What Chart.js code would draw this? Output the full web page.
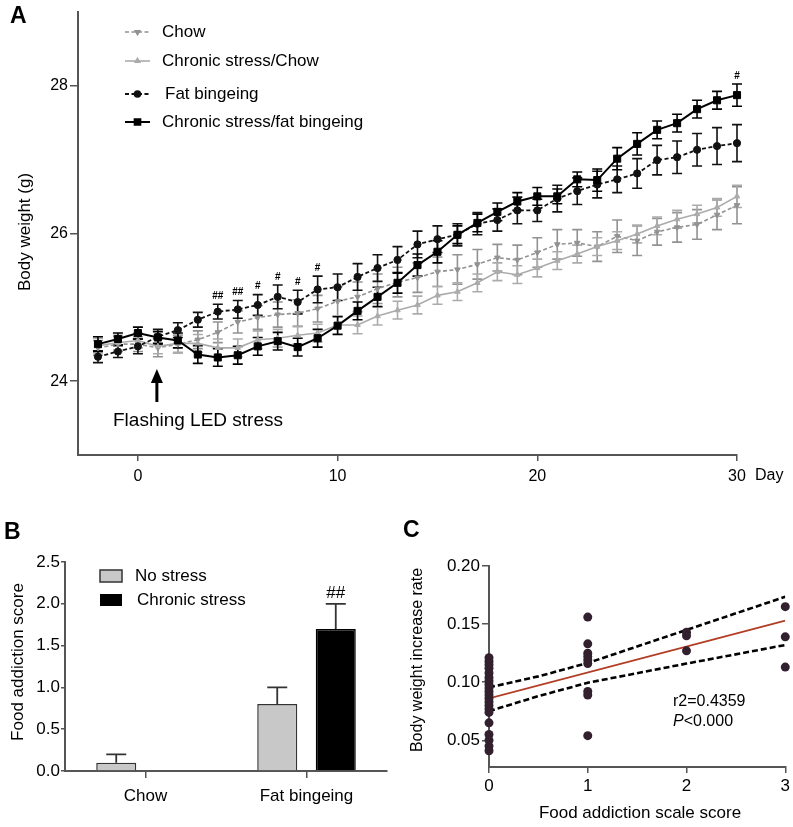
<!DOCTYPE html>
<html><head><meta charset="utf-8">
<script src="https://cdn.jsdelivr.net/npm/chart.js@4.4.0/dist/chart.umd.min.js"></script>
<style>
html,body{margin:0;padding:0;background:#fff;width:793px;height:827px;overflow:hidden;}
.wrap{position:absolute;}
canvas{display:block;}
</style></head><body>
<div class="wrap" style="left:0;top:0;width:793px;height:500px"><canvas id="cA"></canvas></div>
<div class="wrap" style="left:0;top:520px;width:400px;height:307px"><canvas id="cB"></canvas></div>
<div class="wrap" style="left:400px;top:520px;width:393px;height:307px"><canvas id="cC"></canvas></div>
<script>
// ---------- Panel A data ----------
const days = [-2,-1,0,1,2,3,4,5,6,7,8,9,10,11,12,13,14,15,16,17,18,19,20,21,22,23,24,25,26,27,28,29,30];
const chow = [24.45,24.50,24.50,24.45,24.50,24.56,24.66,24.80,24.86,24.90,24.92,24.98,25.08,25.14,25.25,25.34,25.40,25.48,25.51,25.58,25.67,25.64,25.74,25.85,25.87,25.82,25.96,25.90,26.02,26.08,26.12,26.25,26.38];
const stressChow = [24.48,24.52,24.55,24.47,24.51,24.51,24.45,24.45,24.56,24.58,24.62,24.65,24.76,24.76,24.88,24.96,25.03,25.16,25.21,25.33,25.48,25.44,25.53,25.63,25.72,25.82,25.90,25.99,26.10,26.19,26.26,26.35,26.50];
const fatBinge = [24.33,24.40,24.47,24.60,24.69,24.83,24.94,24.97,25.03,25.14,25.07,25.24,25.27,25.41,25.53,25.64,25.85,25.92,25.98,26.13,26.18,26.31,26.31,26.47,26.57,26.66,26.73,26.81,26.99,27.03,27.13,27.18,27.22];
const stressFat = [24.50,24.57,24.65,24.59,24.55,24.36,24.32,24.35,24.47,24.54,24.46,24.58,24.75,24.95,25.14,25.33,25.57,25.75,25.98,26.14,26.29,26.43,26.50,26.50,26.73,26.72,27.01,27.21,27.40,27.49,27.68,27.80,27.87];
const errChow = [0.10,0.10,0.10,0.12,0.12,0.12,0.14,0.15,0.16,0.17,0.18,0.18,0.20,0.20,0.20,0.20,0.20,0.20,0.20,0.20,0.18,0.20,0.20,0.20,0.18,0.20,0.22,0.20,0.18,0.20,0.20,0.20,0.25];
const errStressChow = [0.10,0.10,0.10,0.10,0.12,0.12,0.12,0.12,0.12,0.12,0.12,0.12,0.12,0.12,0.12,0.12,0.12,0.12,0.12,0.12,0.12,0.12,0.12,0.12,0.12,0.12,0.12,0.12,0.12,0.12,0.12,0.12,0.15];
const errFat = [0.08,0.08,0.10,0.10,0.10,0.10,0.10,0.12,0.14,0.16,0.16,0.18,0.18,0.18,0.18,0.18,0.18,0.18,0.15,0.15,0.15,0.18,0.15,0.18,0.18,0.18,0.18,0.20,0.20,0.22,0.22,0.25,0.25];
const errStressFat = [0.10,0.08,0.08,0.08,0.10,0.12,0.12,0.12,0.12,0.12,0.12,0.12,0.12,0.12,0.13,0.14,0.15,0.15,0.12,0.12,0.12,0.12,0.12,0.10,0.10,0.15,0.15,0.15,0.12,0.12,0.12,0.12,0.15];
const seriesNamesA = ['Chow','Chronic stress/Chow','Fat bingeing','Chronic stress/fat bingeing'];
const xTicksA = [0,10,20,30];
const yTicksA = [24,26,28];
const sigDays = [4,5,6,7,8,9,30];
const sigLabels = ['##','##','#','#','#','#','#'];
const sigSeries = [2,2,2,2,2,2,3];

// ---------- Panel B data ----------
const groupsB = ['Chow','Fat bingeing'];
const noStress = [0.1,0.8];
const noStressErr = [0.1,0.2];
const chronicStress = [0,1.7];
const chronicStressErr = [0,0.3];
const yTicksB = [0,0.5,1.0,1.5,2.0,2.5];

// ---------- Panel C data ----------
const scoreC = [0,0,0,0,0,0,0,0,0,0,0,0,0,0,0,0,0,0,0,0,0, 1,1,1,1,1,1,1,1,1, 2,2,2, 3,3,3];
const rateC = [0.121,0.118,0.115,0.112,0.108,0.104,0.101,0.098,0.095,0.092,0.089,0.086,0.083,0.080,0.077,0.074,0.065,0.055,0.050,0.045,0.041,
               0.156,0.133,0.125,0.122,0.119,0.116,0.092,0.089,0.054,
               0.143,0.140,0.127,
               0.165,0.139,0.113];
const fitX = [0,3];
const fitY = [0.086,0.153];
const bandX = [0,0.5,1,2,3];
const bandUpper = [0.0955,0.105,0.1165,0.145,0.1735];
const bandLower = [0.075,0.088,0.0995,0.116,0.132];
const xTicksC = [0,1,2,3];
const yTicksC = [0.05,0.10,0.15,0.20];

// ---------- helpers ----------
const FONT = "Arial, 'Liberation Sans', Helvetica, sans-serif";
Chart.defaults.font.family = FONT;
Chart.defaults.color = '#000';
function txt(ctx, s, x, y, o) {
  o = o || {};
  ctx.save();
  ctx.font = o.font || ('17px ' + FONT);
  ctx.fillStyle = o.color || '#000';
  ctx.textAlign = o.align || 'left';
  ctx.textBaseline = o.base || 'middle';
  if (o.rot) { ctx.translate(x, y); ctx.rotate(o.rot); ctx.fillText(s, 0, 0); }
  else ctx.fillText(s, x, y);
  ctx.restore();
}
const AXC = '#555';
function pts(xs, ys) { return xs.map((x, i) => ({x: x, y: ys[i]})); }

// ---------- Panel A ----------
const colA = ['#929292', '#ababab', '#111', '#000'];
const errA = [errChow, errStressChow, errFat, errStressFat];
const valsA = [chow, stressChow, fatBinge, stressFat];
const styleA = [
  {pointStyle:'triangle', rotation:180, pointRadius:3.2, borderDash:[4,2.5], borderWidth:1.6},
  {pointStyle:'triangle', rotation:0, pointRadius:3.2, borderDash:[], borderWidth:1.6},
  {pointStyle:'circle', rotation:0, pointRadius:3.6, borderDash:[4,2.5], borderWidth:1.8},
  {pointStyle:'rect', rotation:0, pointRadius:5, borderDash:[], borderWidth:2}
];

const errPluginA = {
  id: 'errA',
  beforeDatasetsDraw(chart) {
    const ctx = chart.ctx, ys = chart.scales.y;
    chart.data.datasets.forEach((ds, i) => {
      const meta = chart.getDatasetMeta(i);
      ctx.save();
      ctx.strokeStyle = ds.borderColor; ctx.lineWidth = 1.6; ctx.setLineDash([]);
      meta.data.forEach((p, j) => {
        const v = ds.data[j].y, e = errA[i][j];
        const yt = ys.getPixelForValue(v + e), yb = ys.getPixelForValue(v - e);
        ctx.beginPath();
        ctx.moveTo(p.x, yt); ctx.lineTo(p.x, yb);
        ctx.moveTo(p.x - 5, yt); ctx.lineTo(p.x + 5, yt);
        ctx.moveTo(p.x - 5, yb); ctx.lineTo(p.x + 5, yb);
        ctx.stroke();
      });
      ctx.restore();
    });
  }
};
const annotA = {
  id: 'annotA',
  afterDraw(chart) {
    const ctx = chart.ctx, xs = chart.scales.x, ys = chart.scales.y;
    txt(ctx, 'A', 10, 17, {font: 'bold 23px ' + FONT});
    txt(ctx, 'Body weight (g)', 25, 232, {rot: -Math.PI/2, align: 'center'});
    txt(ctx, 'Day', 755, 476, {font: '16px ' + FONT});
    // legend
    const ly = [32, 61, 94, 122];
    for (let i = 0; i < 4; i++) {
      ctx.save();
      ctx.strokeStyle = colA[i]; ctx.fillStyle = colA[i];
      ctx.lineWidth = styleA[i].borderWidth;
      ctx.setLineDash(styleA[i].borderDash);
      ctx.beginPath(); ctx.moveTo(125, ly[i]); ctx.lineTo(150, ly[i]); ctx.stroke();
      ctx.setLineDash([]);
      Chart.helpers.drawPoint(ctx, {pointStyle: styleA[i].pointStyle, rotation: styleA[i].rotation, radius: styleA[i].pointRadius * 0.8, borderWidth: 1}, 137.5, ly[i]);
      ctx.restore();
      txt(ctx, seriesNamesA[i], i === 2 ? 165 : 162, ly[i], {font: '17px ' + FONT});
    }
    // significance marks
    for (let k = 0; k < sigDays.length; k++) {
      const s = sigSeries[k];
      const j = days.indexOf(sigDays[k]);
      const y = ys.getPixelForValue(valsA[s][j] + errA[s][j]) - 8;
      txt(ctx, sigLabels[k], xs.getPixelForValue(sigDays[k]), y, {font: 'bold 10px ' + FONT, align: 'center'});
    }
    // arrow + label
    const ax = xs.getPixelForValue(0.95);
    ctx.save();
    ctx.fillStyle = '#000'; ctx.strokeStyle = '#000'; ctx.lineWidth = 3;
    ctx.beginPath(); ctx.moveTo(ax, 402); ctx.lineTo(ax, 378); ctx.stroke();
    ctx.beginPath(); ctx.moveTo(ax, 369); ctx.lineTo(ax - 6, 383); ctx.lineTo(ax + 6, 383); ctx.closePath(); ctx.fill();
    ctx.restore();
    txt(ctx, 'Flashing LED stress', 198, 421, {font: '19px ' + FONT, align: 'center'});
  }
};

new Chart(document.getElementById('cA'), {
  type: 'line',
  data: {
    datasets: valsA.map((v, i) => ({
      label: seriesNamesA[i],
      data: pts(days, v),
      borderColor: colA[i], backgroundColor: colA[i],
      pointBackgroundColor: colA[i], pointBorderColor: colA[i],
      borderWidth: styleA[i].borderWidth, borderDash: styleA[i].borderDash,
      pointStyle: styleA[i].pointStyle, rotation: styleA[i].rotation,
      pointRadius: styleA[i].pointRadius, pointBorderWidth: 1,
      tension: 0, order: 4 - i, clip: false
    }))
  },
  options: {
    responsive: true, maintainAspectRatio: false, animation: false,
    layout: {padding: {left: 0, right: 56, top: 5, bottom: 0}},
    plugins: {legend: {display: false}, tooltip: {enabled: false}},
    scales: {
      x: {
        type: 'linear', min: -3, max: 30,
        afterBuildTicks: a => { a.ticks = xTicksA.map(v => ({value: v})); },
        afterFit: a => { a.height = 45; },
        grid: {drawOnChartArea: false, tickLength: 6, color: AXC, lineWidth: 1.5},
        border: {color: AXC, width: 2},
        ticks: {font: {size: 16}, padding: 6, color: '#000', maxRotation: 0}
      },
      y: {
        type: 'linear', min: 23, max: 29,
        afterBuildTicks: a => { a.ticks = yTicksA.map(v => ({value: v})); },
        afterFit: a => { a.width = 78; },
        grid: {drawOnChartArea: false, tickLength: 8, color: AXC, lineWidth: 1.5},
        border: {color: AXC, width: 2},
        ticks: {font: {size: 16}, padding: 2, color: '#000'}
      }
    }
  },
  plugins: [errPluginA, annotA]
});

// ---------- Panel B ----------
const errB = [noStressErr, chronicStressErr];
const barErrPlugin = {
  id: 'errB',
  afterDatasetsDraw(chart) {
    const ctx = chart.ctx, ys = chart.scales.y;
    chart.data.datasets.forEach((ds, i) => {
      const meta = chart.getDatasetMeta(i);
      meta.data.forEach((b, j) => {
        const e = errB[i][j];
        if (!e) return;
        const yt = ys.getPixelForValue(ds.data[j] + e);
        ctx.save();
        ctx.strokeStyle = '#333'; ctx.lineWidth = 1.8;
        ctx.beginPath();
        ctx.moveTo(b.x, b.y); ctx.lineTo(b.x, yt);
        ctx.moveTo(b.x - 10, yt); ctx.lineTo(b.x + 10, yt);
        ctx.stroke();
        ctx.restore();
      });
    });
  },
  afterDraw(chart) {
    const ctx = chart.ctx, ys = chart.scales.y;
    txt(ctx, 'B', 4, 13, {font: 'bold 23px ' + FONT});
    txt(ctx, 'Food addiction score', 18, 142, {rot: -Math.PI/2, align: 'center'});
    // legend
    ctx.save();
    ctx.fillStyle = '#c8c8c8'; ctx.strokeStyle = '#333'; ctx.lineWidth = 1.5;
    ctx.fillRect(100, 50, 22, 12); ctx.strokeRect(100, 50, 22, 12);
    ctx.fillStyle = '#000';
    ctx.fillRect(100, 74, 22, 12);
    ctx.restore();
    txt(ctx, 'No stress', 135, 56, {font: '17px ' + FONT});
    txt(ctx, 'Chronic stress', 137, 80, {font: '17px ' + FONT});
    // significance
    const b = chart.getDatasetMeta(1).data[1];
    txt(ctx, '##', b.x, ys.getPixelForValue(chronicStress[1] + chronicStressErr[1]) - 10, {font: '17px ' + FONT, align: 'center'});
  }
};
new Chart(document.getElementById('cB'), {
  type: 'bar',
  data: {
    labels: groupsB,
    datasets: [
      {label: 'No stress', data: noStress, backgroundColor: '#c8c8c8', borderColor: '#333', borderWidth: 1.5, borderSkipped: 'bottom'},
      {label: 'Chronic stress', data: chronicStress, backgroundColor: '#000', borderColor: '#000', borderWidth: 1.5, borderSkipped: 'bottom'}
    ]
  },
  options: {
    responsive: true, maintainAspectRatio: false, animation: false,
    layout: {padding: {left: 0, right: 13, top: 42, bottom: 0}},
    datasets: {bar: {categoryPercentage: 0.727, barPercentage: 0.684}},
    plugins: {legend: {display: false}, tooltip: {enabled: false}},
    scales: {
      x: {
        afterFit: a => { a.height = 56; },
        grid: {offset: false, drawOnChartArea: false, tickLength: 7, color: AXC, lineWidth: 1.5},
        border: {color: AXC, width: 2},
        ticks: {font: {size: 17}, padding: 8, color: '#000'}
      },
      y: {
        min: 0, max: 2.5,
        afterBuildTicks: a => { a.ticks = yTicksB.map(v => ({value: v})); },
        afterFit: a => { a.width = 65; },
        grid: {drawOnChartArea: false, tickLength: 4, color: AXC, lineWidth: 1.5},
        border: {color: AXC, width: 2},
        ticks: {font: {size: 17}, padding: 1, color: '#000', callback: v => Number(v).toFixed(1)}
      }
    }
  },
  plugins: [barErrPlugin]
});

// ---------- Panel C ----------
const annotC = {
  id: 'annotC',
  afterDraw(chart) {
    const ctx = chart.ctx;
    txt(ctx, 'C', 3, 11, {font: 'bold 23px ' + FONT});
    txt(ctx, 'Body weight increase rate', 18, 140, {rot: -Math.PI/2, align: 'center', font: '16px ' + FONT});
    txt(ctx, 'Food addiction scale score', 240, 293, {align: 'center', font: '17px ' + FONT});
    txt(ctx, 'r2=0.4359', 273, 182, {font: '16px ' + FONT});
    txt(ctx, 'P', 273, 202, {font: 'italic 16px ' + FONT});
    ctx.save(); ctx.font = 'italic 16px ' + FONT; const w = ctx.measureText('P').width; ctx.restore();
    txt(ctx, '<0.000', 273 + w, 202, {font: '16px ' + FONT});
  }
};
new Chart(document.getElementById('cC'), {
  type: 'scatter',
  data: {
    datasets: [
      {label: 'Upper 95% CI', type: 'line', data: pts(bandX, bandUpper), borderColor: '#000', borderWidth: 2.6, borderDash: [6, 3], pointRadius: 0, tension: 0, order: 3},
      {label: 'Lower 95% CI', type: 'line', data: pts(bandX, bandLower), borderColor: '#000', borderWidth: 2.6, borderDash: [6, 3], pointRadius: 0, tension: 0, order: 3},
      {label: 'Linear fit', type: 'line', data: pts(fitX, fitY), borderColor: '#b23c24', borderWidth: 1.6, pointRadius: 0, tension: 0, order: 2},
      {label: 'Mice', data: pts(scoreC, rateC), pointRadius: 4.5, pointBackgroundColor: '#33202f', pointBorderColor: '#33202f', borderWidth: 0, clip: false, order: 1}
    ]
  },
  options: {
    responsive: true, maintainAspectRatio: false, animation: false,
    layout: {padding: {left: 0, right: 6, top: 46, bottom: 0}},
    plugins: {legend: {display: false}, tooltip: {enabled: false}},
    scales: {
      x: {
        type: 'linear', min: 0, max: 3,
        afterBuildTicks: a => { a.ticks = xTicksC.map(v => ({value: v})); },
        afterFit: a => { a.height = 60; },
        grid: {drawOnChartArea: false, tickLength: 6, color: AXC, lineWidth: 1.5},
        border: {color: AXC, width: 2},
        ticks: {font: {size: 17}, padding: 3, color: '#000'}
      },
      y: {
        type: 'linear', min: 0.027, max: 0.20,
        afterBuildTicks: a => { a.ticks = yTicksC.map(v => ({value: v})); },
        afterFit: a => { a.width = 89; },
        grid: {drawOnChartArea: false, tickLength: 7, color: AXC, lineWidth: 1.5},
        border: {color: AXC, width: 2},
        ticks: {font: {size: 17}, padding: 2, color: '#000', callback: v => Number(v).toFixed(2)}
      }
    }
  },
  plugins: [annotC]
});
</script>
</body></html>
